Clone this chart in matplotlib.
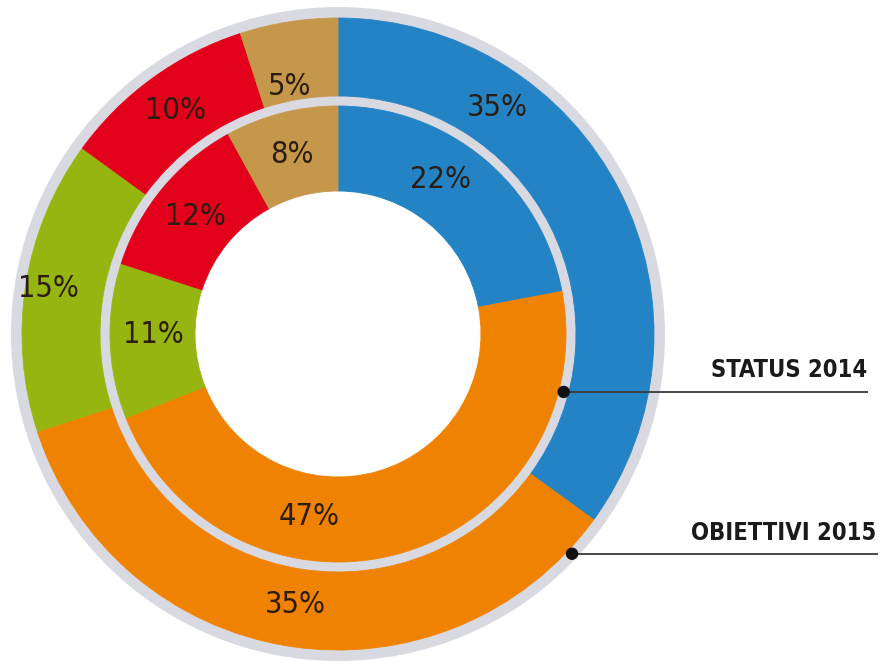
import numpy as np
import matplotlib
matplotlib.use("Agg")
import matplotlib.pyplot as plt
from matplotlib.patches import Wedge, Circle
from matplotlib import font_manager as fm

# ---- data ----
categories = ["Blu", "Arancio", "Verde", "Rosso", "Oro"]
obiettivi_2015 = [35, 35, 15, 10, 5]   # outer ring
status_2014 = [22, 47, 11, 12, 8]      # inner ring
ring_labels = ["STATUS 2014", "OBIETTIVI 2015"]

# ---- style ----
colors = ["#2383c4", "#ef8200", "#97b511", "#e2001a", "#c4974a"]
gray = "#d9d9e1"
txt_col = "#2b1d12"
W, H = 889, 661
cx, cy = 338, H - 334
r_gray_out, r_out, r_out_in = 327, 316, 238
r_in, r_hole = 228, 143
outer_label_ang = [35, None, None, None, 349]
outer_label_r = [277, 274, 293, 276, 252]
inner_label_ang = [33.5, 189, 270, None, None]
inner_label_r = 185

# find condensed fonts if available
names = {f.name for f in fm.fontManager.ttflist}
cond = [f for f in fm.fontManager.ttflist if "Condensed" in f.fname or "Narrow" in f.fname]
reg_path = None
bold_path = None
for f in cond:
    fn = f.fname
    if "DejaVuSansCondensed.ttf" in fn or "LiberationSansNarrow-Regular" in fn:
        reg_path = reg_path or fn
    if "DejaVuSansCondensed-Bold.ttf" in fn or "LiberationSansNarrow-Bold.ttf" in fn:
        bold_path = bold_path or fn
reg_fp = fm.FontProperties(fname=reg_path) if reg_path else fm.FontProperties(family="DejaVu Sans")
bold_fp = fm.FontProperties(fname=bold_path) if bold_path else fm.FontProperties(family="DejaVu Sans", weight="bold")

fig = plt.figure(figsize=(W / 100, H / 100), dpi=100)
ax = fig.add_axes([0, 0, 1, 1])

ax.add_patch(Wedge((cx, cy), r_gray_out, 0, 360, width=r_gray_out - r_out, facecolor=gray, edgecolor="none"))
ax.add_patch(Wedge((cx, cy), r_out_in, 0, 360, width=r_out_in - r_in, facecolor=gray, edgecolor="none"))

def ring(values, r, width):
    wedges, _ = ax.pie(values, colors=colors, radius=r, center=(cx, cy),
                       startangle=90, counterclock=False,
                       wedgeprops=dict(width=width, linewidth=0.6), frame=True)
    for w, c in zip(wedges, colors):
        w.set_edgecolor(c)
    return wedges

ring(obiettivi_2015, r_out, r_out - r_out_in)
ring(status_2014, r_in, r_in - r_hole)
ax.set_xlim(0, W)
ax.set_ylim(0, H)
ax.set_aspect("equal")
ax.axis("off")

def put_labels(values, angs, radii):
    total = sum(values)
    start = 0.0
    for i, v in enumerate(values):
        span = 360.0 * v / total
        a = angs[i] if angs[i] is not None else start + span / 2
        rr = radii[i]
        th = np.deg2rad(a)
        x = cx + rr * np.sin(th)
        y = cy + rr * np.cos(th)
        fp = reg_fp.copy()
        fp.set_size(22)
        ax.text(x, y, f"{v}%", ha="center", va="center", fontproperties=fp,
                color=txt_col)
        start += span

put_labels(obiettivi_2015, outer_label_ang, outer_label_r)
put_labels(status_2014, inner_label_ang, [inner_label_r] * 5)

def callout(text, r, ang_deg, x_end, text_right, text_y):
    th = np.deg2rad(ang_deg)
    x0 = cx + r * np.sin(th)
    y0 = cy + r * np.cos(th)
    ax.plot([x0, x_end], [y0, y0], color="#3a3a3a", lw=1.3, solid_capstyle="butt", zorder=5)
    ax.add_patch(Circle((x0, y0), 5.5, color="#111111", zorder=6))
    fp = bold_fp.copy()
    fp.set_size(17)
    ax.text(text_right, text_y, text, ha="right", va="baseline", fontproperties=fp,
            color="#1a1a1a")

callout(ring_labels[0], 233, 104.4, 868, 867, H - 377)
callout(ring_labels[1], 321, 133.2, 878, 876, H - 540)

fig.savefig("out.png", dpi=100)
